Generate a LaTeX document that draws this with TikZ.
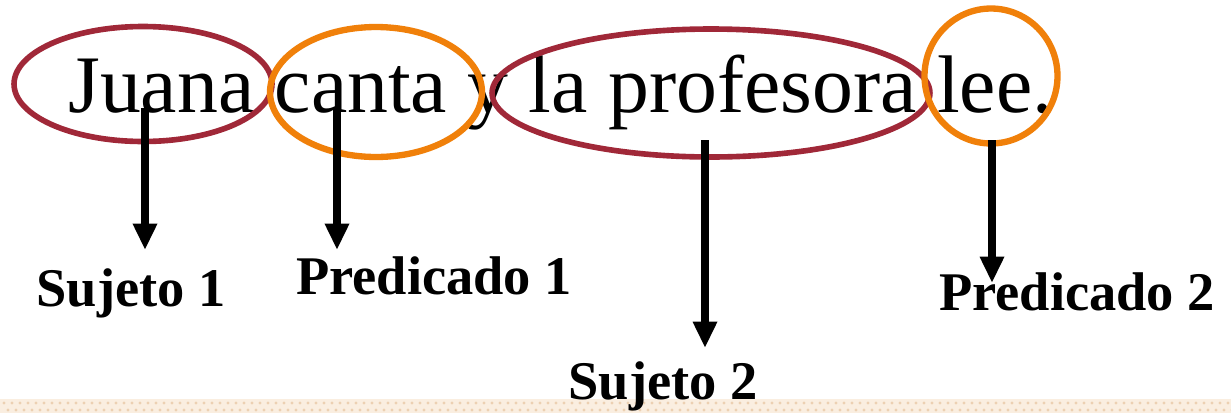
\documentclass[tikz,border=0pt]{standalone}
\usepackage{fontspec}
\setmainfont{Liberation Serif}
\usetikzlibrary{shapes.geometric,arrows.meta}

\definecolor{sujcolor}{RGB}{160,40,56}
\definecolor{predcolor}{RGB}{240,128,10}
\definecolor{bandcolor}{RGB}{250,238,224}
\definecolor{dotcolor}{RGB}{236,208,178}

\begin{document}
\begin{tikzpicture}[x=0.02cm, y=-0.02cm]
    \tikzset{ring/.style={ellipse, draw, inner sep=0pt},
      sujring/.style={ring, sujcolor, line width=3.2pt},
      predring/.style={ring, predcolor, line width=3.6pt},
      label/.style={font=\fontsize{31}{31}\selectfont\bfseries, inner sep=0pt},
      arr/.style={line width=4pt, -{Triangle[length=15pt, width=13pt]}}
    }

    \useasboundingbox (0,0) rectangle (1231,413);
    % textured band at the bottom
    \fill[bandcolor] (0,399) rectangle (1231,413);
    \foreach \x in {4,12,...,1231} {
      \fill[dotcolor] (\x,403) circle (1.6);
      \fill[dotcolor] (\x+4,410) circle (1.6);
    }

    \node[anchor=base west, inner sep=0pt, font=\fontsize{46.5}{46.5}\selectfont] (sent) at (68,112) {Juana canta y la profesora lee.};

    \node[sujring, minimum width=5.16cm, minimum height=2.3cm] (E1) at (143,84) {};
    \node[predring, minimum width=4.24cm, minimum height=2.6cm] (E2) at (376,92) {};
    \node[sujring, minimum width=8.76cm, minimum height=2.56cm] (E3) at (711,93) {};
    \node[predring, minimum width=2.66cm, minimum height=2.7cm] (E4) at (991,76) {};

    \node[label] (S1) at (131,293) {Sujeto 1};
    \node[label] (P1) at (434,276) {Predicado 1};
    \node[label] (S2) at (663,386) {Sujeto 2};
    \node[label] (P2) at (1077,292) {Predicado 2};

    \coordinate (a1) at (145,108);
    \coordinate (b1) at (145,250);
    \coordinate (a2) at (337,108);
    \coordinate (b2) at (337,250);
    \coordinate (a3) at (705,140);
    \coordinate (b3) at (705,348);
    \coordinate (a4) at (992,140);
    \coordinate (b4) at (992,283);

    \draw[arr] (a1) -- (b1);
    \draw[arr] (a2) -- (b2);
    \draw[arr] (a3) -- (b3);
    \draw[arr] (a4) -- (b4);
\end{tikzpicture}
\end{document}
